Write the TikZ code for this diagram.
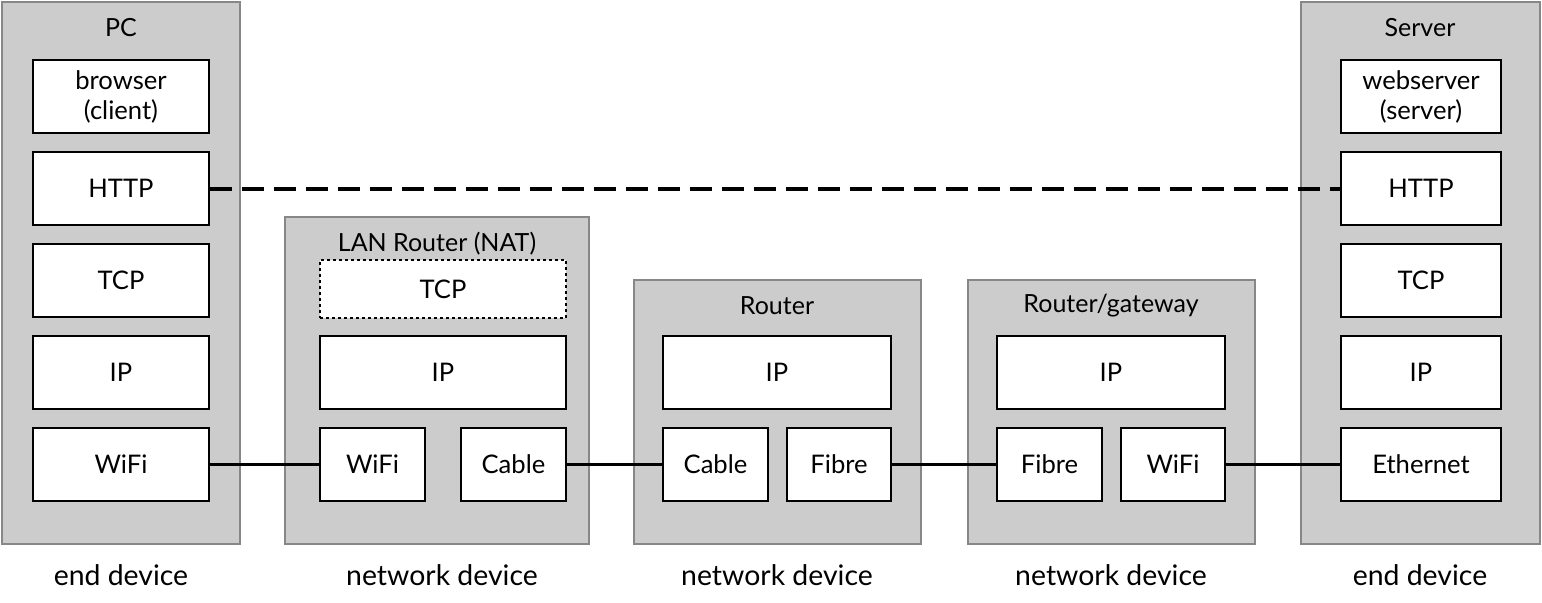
\documentclass[tikz,border=0pt]{standalone}
\usepackage{fontspec}
\setmainfont{Lato}
\begin{document}
\begin{tikzpicture}[x=0.5pt,y=-0.5pt,
  device/.style={draw=black!47,fill=black!20,line width=1pt,inner sep=0pt},
  layer/.style={draw=black,fill=white,line width=0.65pt,font=\fontsize{12.8}{15}\selectfont,align=center,inner sep=0pt},
  ghost/.style={layer,dash pattern=on 1.5pt off 1.5pt},
  title/.style={font=\fontsize{12.5}{14}\selectfont,inner sep=0pt},
  caption/.style={font=\fontsize{14.2}{16}\selectfont,inner sep=0pt},
  link/.style={line width=1.5pt},
  proto/.style={line width=2pt,dash pattern=on 11pt off 5pt}]
\useasboundingbox (0,0) rectangle (1542,602);
% devices
\node[device,minimum width=119pt,minimum height=271pt] (pc) at (121,273) {};
\node[device,minimum width=119.5pt,minimum height=271pt] (srv) at (1420.5,273) {};
\node[device,minimum width=152pt,minimum height=163.5pt] (lan) at (437,380.5) {};
\node[device,minimum width=143.5pt,minimum height=132pt] (rt) at (777.5,412) {};
\node[device,minimum width=143.5pt,minimum height=132pt] (gw) at (1111.5,412) {};
% titles
\node[title] (pct) at (121,28) {PC};
\node[title] (srvt) at (1420,28) {Server};
\node[title] (lant) at (437,244) {LAN Router (NAT)};
\node[title] (rtt) at (777,306) {Router};
\node[title] (gwt) at (1111,306) {Router/gateway};
% PC stack
\node[layer,minimum width=88pt,minimum height=36.5pt] (pcapp) at (121,96.5) {browser\\(client)};
\node[layer,minimum width=88pt,minimum height=36.5pt] (pchttp) at (121,188.5) {HTTP};
\node[layer,minimum width=88pt,minimum height=36.5pt] (pctcp) at (121,280.5) {TCP};
\node[layer,minimum width=88pt,minimum height=36.5pt] (pcip) at (121,372.5) {IP};
\node[layer,minimum width=88pt,minimum height=36.5pt] (pcwifi) at (121,464.5) {WiFi};
% Server stack
\node[layer,minimum width=80pt,minimum height=36.5pt] (svapp) at (1421,96.5) {webserver\\(server)};
\node[layer,minimum width=80pt,minimum height=36.5pt] (svhttp) at (1421,188.5) {HTTP};
\node[layer,minimum width=80pt,minimum height=36.5pt] (svtcp) at (1421,280.5) {TCP};
\node[layer,minimum width=80pt,minimum height=36.5pt] (svip) at (1421,372.5) {IP};
\node[layer,minimum width=80pt,minimum height=36.5pt] (sveth) at (1421,464.5) {Ethernet};
% LAN router
\node[ghost,minimum width=123pt,minimum height=29pt] (lantcp) at (443,289) {TCP};
\node[layer,minimum width=123pt,minimum height=36.5pt] (lanip) at (443,372.5) {IP};
\node[layer,minimum width=52.5pt,minimum height=36.5pt] (lanwifi) at (372.5,464.5) {WiFi};
\node[layer,minimum width=52.5pt,minimum height=36.5pt] (lancab) at (513.5,464.5) {Cable};
% Router
\node[layer,minimum width=114pt,minimum height=36.5pt] (rtip) at (777,372.5) {IP};
\node[layer,minimum width=52.5pt,minimum height=36.5pt] (rtcab) at (715.5,464.5) {Cable};
\node[layer,minimum width=52pt,minimum height=36.5pt] (rtfib) at (839,464.5) {Fibre};
% Gateway
\node[layer,minimum width=114pt,minimum height=36.5pt] (gwip) at (1111,372.5) {IP};
\node[layer,minimum width=52.5pt,minimum height=36.5pt] (gwfib) at (1049.5,464.5) {Fibre};
\node[layer,minimum width=52pt,minimum height=36.5pt] (gwwifi) at (1173,464.5) {WiFi};
% captions
\node[caption] (c1) at (121,575) {end device};
\node[caption] (c2) at (442,575) {network device};
\node[caption] (c3) at (777,575) {network device};
\node[caption] (c4) at (1111,575) {network device};
\node[caption] (c5) at (1420,575) {end device};
% links
\draw[link] (pcwifi.east) -- (lanwifi.west);
\draw[link] (lancab.east) -- (rtcab.west);
\draw[link] (rtfib.east) -- (gwfib.west);
\draw[link] (gwwifi.east) -- (sveth.west);
\draw[proto] (pchttp.east) -- (svhttp.west);
\end{tikzpicture}
\end{document}
